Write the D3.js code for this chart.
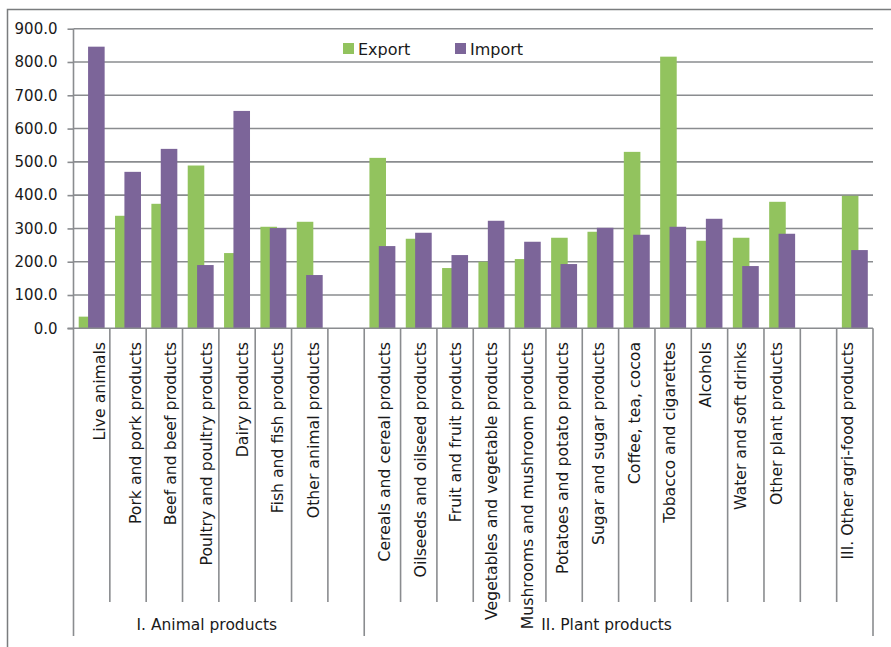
<!DOCTYPE html>
<html>
<head>
<meta charset="utf-8">
<script src="https://cdn.jsdelivr.net/npm/d3@7"></script>
<style>
  html, body { margin: 0; padding: 0; background: #fff; }
  svg { display: block; }
  text { font-family: "DejaVu Sans", sans-serif; fill: #1a1a1a; }
</style>
</head>
<body>
<div id="chart"></div>
<script>
// Agri-food trade by product category (empty strings are spacer slots between groups)
const categories = [
  "Live animals", "Pork and pork products", "Beef and beef products",
  "Poultry and poultry products", "Dairy products", "Fish and fish products",
  "Other animal products", "",
  "Cereals and cereal products", "Oilseeds and oilseed products",
  "Fruit and fruit products", "Vegetables and vegetable products",
  "Mushrooms and mushroom products", "Potatoes and potato products",
  "Sugar and sugar products", "Coffee, tea, cocoa", "Tobacco and cigarettes",
  "Alcohols", "Water and soft drinks", "Other plant products", "",
  "III. Other agri-food products"
];
const exportValues = [35, 338, 374, 489, 226, 305, 320, null, 512, 269, 181, 200, 208, 272, 290, 530, 816, 263, 272, 380, null, 398];
const importValues = [846, 470, 539, 190, 653, 301, 160, null, 247, 287, 220, 323, 260, 193, 302, 281, 305, 329, 187, 284, null, 235];
const seriesNames = ["Export", "Import"];
const seriesColors = ["#92c35e", "#7c6599"];
const yTicks = [0, 100, 200, 300, 400, 500, 600, 700, 800, 900];
// Group brackets along the axis: first and last slot index of each group
const groupNames = ["I. Animal products", "II. Plant products"];
const groupStart = [0, 8];
const groupEnd = [7, 21];

const W = 891, H = 647;
const plot = { left: 73.5, right: 873, top: 28.7, bottom: 328.3 };

const svg = d3.select("#chart").append("svg").attr("width", W).attr("height", H);

// Outer frame (runs off the right and bottom edges)
svg.append("rect")
  .attr("x", 7.5).attr("y", 9.5).attr("width", W + 20).attr("height", H + 20)
  .attr("fill", "none").attr("stroke", "#7a7c7e").attr("stroke-width", 1.5);

const idx = d3.range(categories.length);
const x = d3.scaleBand().domain(idx).range([plot.left, plot.right]).padding(0);
const y = d3.scaleLinear().domain([0, 900]).range([plot.bottom, plot.top]);

const slot = x.bandwidth();
const barW = slot * 0.456;
const shift = slot * 0.258;
const margin = (slot - shift - barW) / 2;

const gridColor = "#8a8c8f";

// Horizontal gridlines
svg.append("g").selectAll("line").data(yTicks.filter(t => t > 0)).join("line")
  .attr("x1", plot.left).attr("x2", plot.right)
  .attr("y1", d => y(d)).attr("y2", d => y(d))
  .attr("stroke", gridColor).attr("stroke-width", 1.6);

// Y axis
const yAxis = svg.append("g").attr("transform", `translate(${plot.left},0)`)
  .call(d3.axisLeft(y).tickValues(yTicks).tickFormat(d3.format(".1f")).tickSize(6).tickPadding(10));
yAxis.select(".domain").remove();
yAxis.selectAll(".tick line").attr("stroke", gridColor).attr("stroke-width", 1.6);
yAxis.selectAll(".tick text").attr("font-size", 15).attr("fill", "#1a1a1a")
  .style("font-family", "'DejaVu Sans', sans-serif");

// Bars: Export first, Import drawn on top with overlap
const series = [exportValues, importValues];
series.forEach((vals, s) => {
  svg.append("g").selectAll("rect")
    .data(idx.filter(i => vals[i] != null)).join("rect")
    .attr("x", i => x(i) + margin + s * shift)
    .attr("width", barW)
    .attr("y", i => y(vals[i]))
    .attr("height", i => y(0) - y(vals[i]))
    .attr("fill", seriesColors[s]);
});

// Zero line and vertical axis line extending through the label area
const axisBottomEnd = 636;
const tickEnd = 602;
svg.append("line")
  .attr("x1", plot.left - 6).attr("x2", plot.right)
  .attr("y1", y(0)).attr("y2", y(0))
  .attr("stroke", gridColor).attr("stroke-width", 1.6);

// Category separators
const boundaries = d3.range(categories.length + 1);
const isGroupEdge = b => groupStart.includes(b) || b === categories.length;
svg.append("g").selectAll("line").data(boundaries).join("line")
  .attr("x1", b => b < categories.length ? x(b) : plot.right)
  .attr("x2", b => b < categories.length ? x(b) : plot.right)
  .attr("y1", b => b === 0 ? plot.top : y(0))
  .attr("y2", b => isGroupEdge(b) ? axisBottomEnd : tickEnd)
  .attr("stroke", gridColor).attr("stroke-width", 1.6);

// Rotated category labels
const labelX = d3.scaleLinear().domain([0, categories.length - 1])
  .range([x(0) + slot / 2 + 8, x(categories.length - 1) + slot / 2 - 7]);
svg.append("g").selectAll("text").data(idx.filter(i => categories[i])).join("text")
  .attr("transform", i => `translate(${labelX(i)},342) rotate(-90)`)
  .attr("text-anchor", "end")
  .attr("dy", "0.35em")
  .attr("font-size", 15.7)
  .text(i => categories[i]);

// Group labels
svg.append("g").selectAll("text").data(groupNames).join("text")
  .attr("x", (d, g) => {
    const a = x(groupStart[g]);
    const b = groupEnd[g] + 1 < categories.length ? x(groupEnd[g] + 1) : plot.right;
    return (a + b) / 2 - 12;
  })
  .attr("y", 630)
  .attr("text-anchor", "middle")
  .attr("font-size", 15.5)
  .text(d => d);

// Legend
const legend = svg.append("g").attr("transform", "translate(343,43)");
const legendItem = legend.selectAll("g").data(seriesNames).join("g")
  .attr("transform", (d, i) => `translate(${i * 112},0)`);
legendItem.append("rect").attr("width", 11).attr("height", 11)
  .attr("fill", (d, i) => seriesColors[i]);
legendItem.append("text").attr("x", 15).attr("y", 11.5)
  .attr("font-size", 16).text(d => d);
</script>
</body>
</html>
